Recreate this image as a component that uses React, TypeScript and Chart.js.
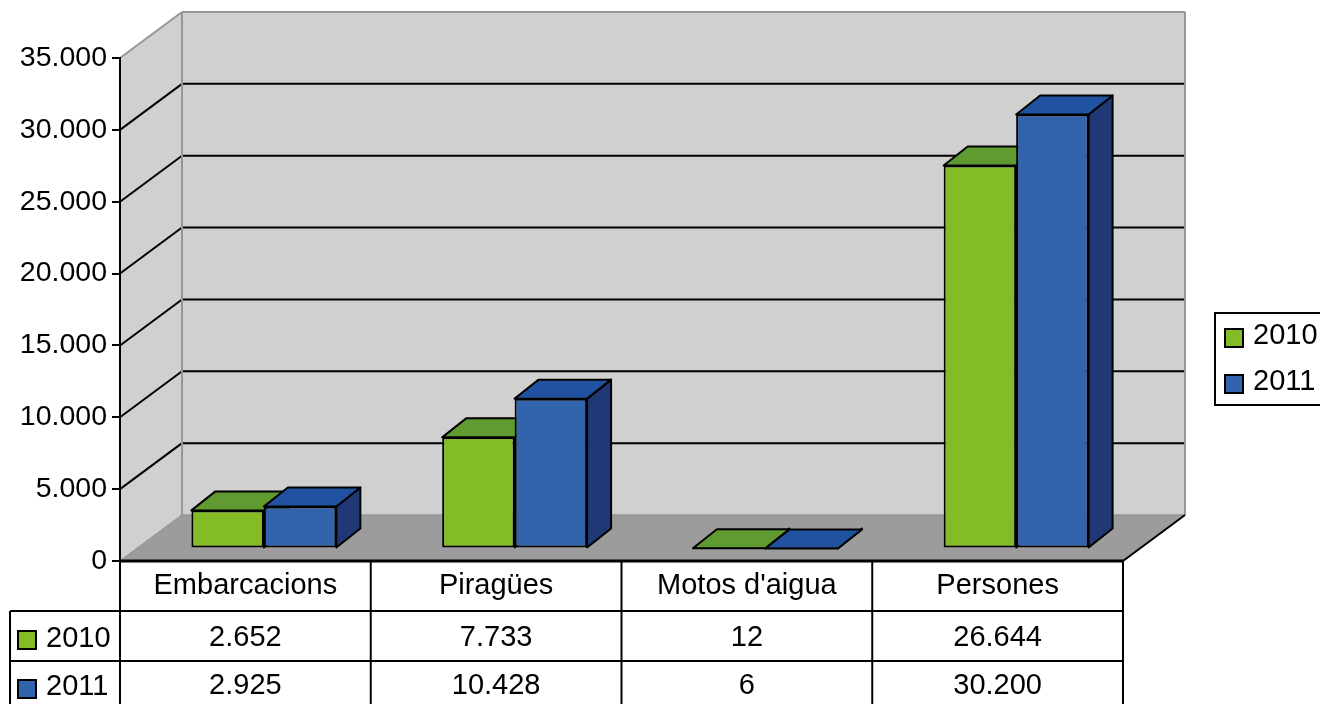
import React, { useEffect, useRef } from "react";
import { Chart, registerables } from "chart.js";

Chart.register(...registerables);

const categories = ["Embarcacions", "Piragües", "Motos d'aigua", "Persones"];
const seriesNames = ["2010", "2011"];
const values2010 = [2652, 7733, 12, 26644];
const values2011 = [2925, 10428, 6, 30200];
const axisMax = 35000;
const axisStep = 5000;

const FONT = '"Liberation Sans", Arial, sans-serif';
const FONT_SIZE = 29;
const W = 1320;
const H = 704;

const front = ["#84bc25", "#3263ad"];
const topFace = ["#5f9b30", "#21529f"];
const sideFace = ["#5a8a1a", "#203876"];

const WALL = "#d0d0d0";
const FLOOR = "#9c9c9c";
const WALL_EDGE = "#969696";

// Perspective offsets of the chart box, the bars inside it, and the bar depth
const DEPTH = { x: 62, y: -46 };
const BAR_SHIFT = { x: 18.5, y: -12.5 };
const BAR_DEPTH = { x: 24, y: -19 };

const fmt = (v: number) => String(v).replace(/\B(?=(\d{3})+(?!\d))/g, ".");

function poly(ctx: CanvasRenderingContext2D, pts: number[][], fill: string | null, stroke: string | null, lw = 1) {
  ctx.beginPath();
  pts.forEach((p, i) => (i ? ctx.lineTo(p[0], p[1]) : ctx.moveTo(p[0], p[1])));
  ctx.closePath();
  if (fill) {
    ctx.fillStyle = fill;
    ctx.fill();
  }
  if (stroke) {
    ctx.strokeStyle = stroke;
    ctx.lineWidth = lw;
    ctx.lineJoin = "round";
    ctx.stroke();
  }
}

function seg(ctx: CanvasRenderingContext2D, x1: number, y1: number, x2: number, y2: number, color: string, lw: number) {
  ctx.beginPath();
  ctx.moveTo(x1, y1);
  ctx.lineTo(x2, y2);
  ctx.strokeStyle = color;
  ctx.lineWidth = lw;
  ctx.stroke();
}

function key(ctx: CanvasRenderingContext2D, x: number, y: number, color: string) {
  ctx.fillStyle = color;
  ctx.fillRect(x, y, 18, 18);
  ctx.strokeStyle = "#000";
  ctx.lineWidth = 2;
  ctx.strokeRect(x, y, 18, 18);
}

const box3d = {
  id: "box3d",
  beforeDraw(chart: any) {
    const { ctx, chartArea: a, scales } = chart;
    const { left: l, right: r, top: t, bottom: b } = a;
    const dx = DEPTH.x;
    const dy = DEPTH.y;
    ctx.save();
    poly(ctx, [[l, b], [l + dx, b + dy], [l + dx, t + dy], [l, t]], WALL, null);
    ctx.fillStyle = WALL;
    ctx.fillRect(l + dx, t + dy, r - l, b - t);
    poly(ctx, [[l, b], [l + dx, b + dy], [r + dx, b + dy], [r, b]], FLOOR, null);
    for (const tick of scales.y.ticks) {
      if (tick.value === 0 || tick.value === axisMax) continue;
      const y = scales.y.getPixelForValue(tick.value);
      seg(ctx, l, y, l + dx, y + dy, "#000", 2);
      seg(ctx, l + dx, y + dy, r + dx, y + dy, "#000", 2);
    }
    seg(ctx, l, t, l + dx, t + dy, WALL_EDGE, 2);
    seg(ctx, l + dx, t + dy, r + dx, t + dy, WALL_EDGE, 2);
    seg(ctx, r + dx, t + dy, r + dx, b + dy, WALL_EDGE, 2);
    seg(ctx, l + dx, t + dy, l + dx, b + dy, WALL_EDGE, 2);
    seg(ctx, l, b, l + dx, b + dy, WALL_EDGE, 1.5);
    seg(ctx, l + dx, b + dy, r + dx, b + dy, WALL_EDGE, 1.5);
    seg(ctx, r, b, r + dx, b + dy, "#000", 2);
    ctx.restore();
  },
  beforeDatasetsDraw(chart: any) {
    const { ctx } = chart;
    ctx.save();
    ctx.translate(BAR_SHIFT.x, BAR_SHIFT.y);
    const dx = BAR_DEPTH.x;
    const dy = BAR_DEPTH.y;
    [0, 1].forEach((d) => {
      chart.getDatasetMeta(d).data.forEach((bar: any) => {
        const x0 = bar.x - bar.width / 2;
        const x1 = bar.x + bar.width / 2;
        poly(ctx, [[x1, bar.y], [x1 + dx, bar.y + dy], [x1 + dx, bar.base + dy], [x1, bar.base]], sideFace[d], "#000", 2);
        poly(ctx, [[x0, bar.y], [x0 + dx, bar.y + dy], [x1 + dx, bar.y + dy], [x1, bar.y]], topFace[d], "#000", 2);
      });
    });
    ctx.restore();
  },
  beforeDatasetDraw(chart: any) {
    chart.ctx.save();
    chart.ctx.translate(BAR_SHIFT.x, BAR_SHIFT.y);
  },
  afterDatasetDraw(chart: any) {
    chart.ctx.restore();
  },
  afterDraw(chart: any) {
    const { ctx, chartArea: a, scales } = chart;
    const { left: l, right: r, bottom: b } = a;
    const rowY = [b + 50, b + 100];
    const textY = [638, 686];
    const keyY = [631, 680];
    ctx.save();
    // data table grid
    seg(ctx, l, b, l, H, "#000", 2);
    const columns = categories.length;
    for (let i = 1; i <= columns; i++) {
      const x = l + ((r - l) * i) / columns;
      seg(ctx, x, b, x, H, "#000", 2);
    }
    rowY.forEach((y) => seg(ctx, 10, y, r, y, "#000", 2));
    seg(ctx, 10, rowY[0], 10, H, "#000", 2);
    seg(ctx, l, b, r, b, "#000", 3);

    ctx.font = `${FONT_SIZE}px ${FONT}`;
    ctx.fillStyle = "#000";
    ctx.textBaseline = "middle";
    [values2010, values2011].forEach((vals, s) => {
      key(ctx, 18, keyY[s], front[s]);
      ctx.fillStyle = "#000";
      ctx.textAlign = "left";
      ctx.fillText(seriesNames[s], 46, textY[s] + 1);
      ctx.textAlign = "center";
      vals.forEach((v, i) => {
        ctx.fillText(fmt(v), scales.x.getPixelForValue(i), textY[s]);
      });
    });

    // legend
    ctx.fillStyle = "#fff";
    ctx.fillRect(1215, 313, 120, 92);
    ctx.strokeStyle = "#000";
    ctx.lineWidth = 2;
    ctx.strokeRect(1215, 313, 120, 92);
    seriesNames.forEach((name, s) => {
      const y = 335 + s * 46;
      key(ctx, 1225, y - 6, front[s]);
      ctx.fillStyle = "#000";
      ctx.textAlign = "left";
      ctx.fillText(name, 1253, y + 1);
    });
    ctx.restore();
  },
};

export default function App() {
  const ref = useRef<HTMLCanvasElement>(null);
  useEffect(() => {
    document.body.style.margin = "0";
    document.body.style.background = "#fff";
    const chart = new Chart(ref.current!, {
      type: "bar",
      data: {
        labels: categories,
        datasets: [
          {
            label: seriesNames[0],
            data: values2010,
            backgroundColor: front[0],
            borderColor: "#000",
            borderWidth: 2,
            borderSkipped: false,
            clip: false,
          },
          {
            label: seriesNames[1],
            data: values2011,
            backgroundColor: front[1],
            borderColor: "#000",
            borderWidth: 2,
            borderSkipped: false,
            clip: false,
          },
        ] as any,
      },
      plugins: [box3d as any],
      options: {
        responsive: false,
        animation: false,
        devicePixelRatio: 1,
        layout: { padding: { left: 0, top: 58, right: 197, bottom: 0 } },
        datasets: { bar: { barPercentage: 1, categoryPercentage: 0.578 } },
        plugins: { legend: { display: false }, tooltip: { enabled: false }, title: { display: false } },
        scales: {
          x: {
            grid: { display: false, drawTicks: false },
            border: { display: false },
            ticks: {
              color: "#000",
              font: { family: FONT, size: FONT_SIZE },
              padding: 8,
              maxRotation: 0,
              autoSkip: false,
            },
            afterFit: (s: any) => {
              s.height = 143;
            },
          },
          y: {
            min: 0,
            max: axisMax,
            grid: { drawOnChartArea: false, drawTicks: true, tickLength: 8, color: "#000", lineWidth: 2 },
            border: { display: true, color: "#000", width: 2 },
            ticks: {
              stepSize: axisStep,
              color: "#000",
              padding: 5,
              font: { family: FONT, size: 28.5 },
              callback: (v: any) => fmt(Number(v)),
            },
            afterFit: (s: any) => {
              s.width = 120;
            },
          },
        },
      } as any,
    });
    return () => chart.destroy();
  }, []);
  return <canvas ref={ref} width={W} height={H} style={{ display: "block", width: W, height: H }} />;
}
